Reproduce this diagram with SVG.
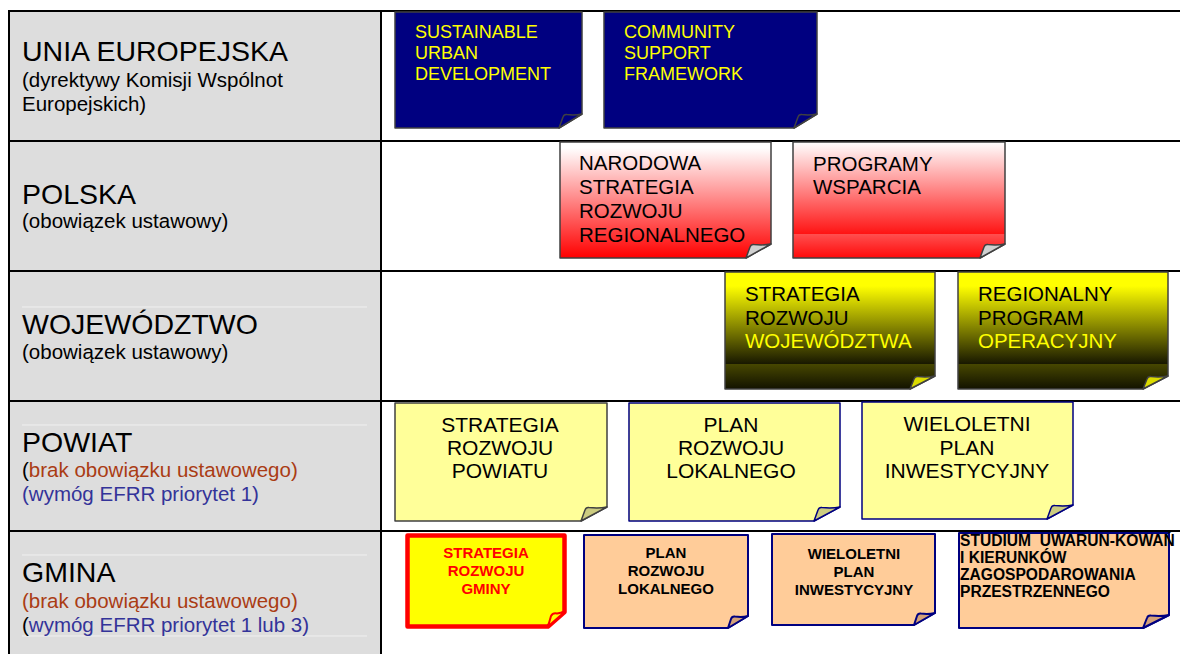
<svg xmlns="http://www.w3.org/2000/svg" width="1180" height="654" viewBox="0 0 1180 654">
<style>
text{font-family:"Liberation Sans",Arial,sans-serif}
.big{font-size:28.5px;fill:#000}
.sub{font-size:20.5px;fill:#000}
.br{fill:#aa3c14}
.bl{fill:#333399}
.grid{stroke:#000;stroke-width:2;fill:none}
.faint{stroke:#f0f0f0;stroke-width:1}
.note{stroke:#404040;stroke-width:1.5;stroke-linejoin:round}
.eu{font-size:18px;fill:#ffff00}
.t20{font-size:20.5px;fill:#000}
.t21{font-size:21px;fill:#000;text-anchor:middle}
.tb{font-size:15px;font-weight:bold;fill:#000;text-anchor:middle}
.tl{font-size:15.6px;font-weight:bold;fill:#000}
.ny{stroke:#000080;stroke-width:1.5;stroke-linejoin:round}
.ny2{stroke:#000080;stroke-width:2;stroke-linejoin:round}
</style>
<defs>
<linearGradient id="gRed1" x1="0" y1="0" x2="0" y2="1">
<stop offset="0" stop-color="#ffffff"/><stop offset="0.05" stop-color="#ffffff"/><stop offset="1" stop-color="#ff0000"/>
</linearGradient>
<linearGradient id="gRed2" x1="0" y1="0" x2="0" y2="1">
<stop offset="0" stop-color="#ffffff"/><stop offset="0.79" stop-color="#ff1414"/><stop offset="0.79" stop-color="#ff5050"/><stop offset="1" stop-color="#ff0a0a"/>
</linearGradient>
<linearGradient id="gYB" x1="0" y1="0" x2="0" y2="1">
<stop offset="0" stop-color="#ffff00"/><stop offset="0.12" stop-color="#ffff00"/><stop offset="0.79" stop-color="#161600"/><stop offset="0.79" stop-color="#464600"/><stop offset="1" stop-color="#121200"/>
</linearGradient>
</defs>
<rect width="1180" height="654" fill="#ffffff"/>
<g id="table">
<rect x="9" y="11" width="372" height="643" fill="#dddddd"/>
<line class="faint" x1="22" y1="307" x2="367" y2="307"/>
<line class="faint" x1="22" y1="425" x2="367" y2="425"/>
<line class="faint" x1="22" y1="555" x2="367" y2="555"/>
<line class="faint" x1="22" y1="636" x2="367" y2="636"/>
<line class="grid" x1="8" y1="11" x2="1180" y2="11"/>
<line class="grid" x1="8" y1="141" x2="1180" y2="141"/>
<line class="grid" x1="8" y1="271" x2="1180" y2="271"/>
<line class="grid" x1="8" y1="401" x2="1180" y2="401"/>
<line class="grid" x1="8" y1="531" x2="1180" y2="531"/>
<line class="grid" x1="9" y1="10" x2="9" y2="654"/>
<line class="grid" x1="381" y1="10" x2="381" y2="654"/>
</g>
<g id="row-labels">
<text class="big" x="22" y="61">UNIA EUROPEJSKA</text>
<text class="sub" x="22" y="87">(dyrektywy Komisji Wspólnot</text>
<text class="sub" x="22" y="111">Europejskich)</text>
<text class="big" x="22" y="204">POLSKA</text>
<text class="sub" x="22" y="228">(obowiązek ustawowy)</text>
<text class="big" x="22" y="334">WOJEWÓDZTWO</text>
<text class="sub" x="22" y="359">(obowiązek ustawowy)</text>
<text class="big" x="22" y="452">POWIAT</text>
<text class="sub" x="22" y="477">(<tspan class="br">brak obowiązku ustawowego)</tspan></text>
<text class="sub bl" x="22" y="501">(wymóg EFRR priorytet 1)</text>
<text class="big" x="22" y="582">GMINA</text>
<text class="sub br" x="22" y="608">(brak obowiązku ustawowego)</text>
<text class="sub" x="22" y="632">(<tspan class="bl">wymóg EFRR priorytet 1 lub 3)</tspan></text>
</g>
<g id="connectors"></g>
<g id="eu-sud">
<path class="note" fill="#000080" d="M395,12 H582 V114 L559,128 H395 Z"/>
<path class="note" fill="#000080" d="M582,114 L559,128 L563,117 Q564,114 567,114.5 Q574,115.5 582,114 Z"/>
<text class="eu" x="415" y="38">SUSTAINABLE</text>
<text class="eu" x="415" y="59">URBAN</text>
<text class="eu" x="415" y="80">DEVELOPMENT</text>
</g>
<g id="eu-csf">
<path class="note" fill="#000080" d="M604,12 H817 V114 L794,128 H604 Z"/>
<path class="note" fill="#000080" d="M817,114 L794,128 L798,117 Q799,114 802,114.5 Q809,115.5 817,114 Z"/>
<text class="eu" x="624" y="38">COMMUNITY</text>
<text class="eu" x="624" y="59">SUPPORT</text>
<text class="eu" x="624" y="80">FRAMEWORK</text>
</g>
<g id="pl-nsrr">
<path class="note" fill="url(#gRed1)" d="M560,142 H771 V244 L746,258 H560 Z"/>
<path class="note" fill="#d0d0d0" d="M771,244 L746,258 L750,247 Q751,244 754,244.5 Q763,245.5 771,244 Z"/>
<text class="t20" x="579" y="170">NARODOWA</text>
<text class="t20" x="579" y="194">STRATEGIA</text>
<text class="t20" x="579" y="218">ROZWOJU</text>
<text class="t20" x="579" y="242">REGIONALNEGO</text>
</g>
<g id="pl-programy">
<path class="note" fill="url(#gRed2)" d="M793,142 H1005 V244 L980,258 H793 Z"/>
<path class="note" fill="#d0d0d0" d="M1005,244 L980,258 L984,247 Q985,244 988,244.5 Q997,245.5 1005,244 Z"/>
<text class="t20" x="813" y="171">PROGRAMY</text>
<text class="t20" x="813" y="194">WSPARCIA</text>
</g>
<g id="woj-strategia">
<path class="note" fill="url(#gYB)" d="M725,272 H935 V376 L910,389 H725 Z"/>
<path class="note" fill="#dcdc00" d="M935,376 L910,389 L914,379 Q915,376 918,376.5 Q927,377.5 935,376 Z"/>
<text class="t20" x="745" y="301">STRATEGIA</text>
<text class="t20" x="745" y="325">ROZWOJU</text>
<text class="t20" x="745" y="348" style="fill:#ffff00">WOJEWÓDZTWA</text>
</g>
<g id="woj-rpo">
<path class="note" fill="url(#gYB)" d="M958,272 H1168 V376 L1143,389 H958 Z"/>
<path class="note" fill="#dcdc00" d="M1168,376 L1143,389 L1147,379 Q1148,376 1151,376.5 Q1160,377.5 1168,376 Z"/>
<text class="t20" x="978" y="301">REGIONALNY</text>
<text class="t20" x="978" y="325">PROGRAM</text>
<text class="t20" x="978" y="348" style="fill:#ffff00">OPERACYJNY</text>
</g>
<g id="pow-strategia">
<path class="note" fill="#ffff99" stroke="#202020" d="M395,403 H607 V507 L581,521 H395 Z"/>
<path class="note" fill="#cccc80" d="M607,507 L581,521 L585,510 Q586,507 589,507.5 Q599,508.5 607,507 Z"/>
<text class="t21" x="500" y="432">STRATEGIA</text>
<text class="t21" x="500" y="455">ROZWOJU</text>
<text class="t21" x="500" y="478">POWIATU</text>
</g>
<g id="pow-plan">
<path class="ny" fill="#ffff99" d="M629,403 H840 V507 L814,521 H629 Z"/>
<path class="ny" fill="#cccc80" d="M840,507 L814,521 L818,510 Q819,507 822,507.5 Q832,508.5 840,507 Z"/>
<text class="t21" x="731" y="432">PLAN</text>
<text class="t21" x="731" y="455">ROZWOJU</text>
<text class="t21" x="731" y="478">LOKALNEGO</text>
</g>
<g id="pow-wpi">
<path class="ny" fill="#ffff99" d="M862,402 H1073 V505 L1047,519 H862 Z"/>
<path class="ny" fill="#cccc80" d="M1073,505 L1047,519 L1051,508 Q1052,505 1055,505.5 Q1065,506.5 1073,505 Z"/>
<text class="t21" x="967" y="431">WIELOLETNI</text>
<text class="t21" x="967" y="455">PLAN</text>
<text class="t21" x="967" y="478">INWESTYCYJNY</text>
</g>
<g id="gm-strategia">
<path fill="#ffff00" stroke="#ff0000" stroke-width="4.5" stroke-linejoin="round" d="M407.5,535.5 H564.5 V612 L548,626.5 H407.5 Z"/>
<path fill="#ffff00" stroke="#ff0000" stroke-width="2" stroke-linejoin="round" d="M564.5,612 L548,626.5 L551,616 Q553,612.5 557,613.5 Z"/>
<text class="tb" x="486" y="558" style="fill:#ff0000">STRATEGIA</text>
<text class="tb" x="486" y="576" style="fill:#ff0000">ROZWOJU</text>
<text class="tb" x="486" y="594" style="fill:#ff0000">GMINY</text>
</g>
<g id="gm-plan">
<path class="ny2" fill="#ffcc99" d="M584,535 H748 V616 L728,628 H584 Z"/>
<path class="ny2" fill="#d4a27a" d="M748,616 L728,628 L731,619 Q732,616 735,616.5 Q742,617.5 748,616 Z"/>
<text class="tb" x="666" y="558">PLAN</text>
<text class="tb" x="666" y="576">ROZWOJU</text>
<text class="tb" x="666" y="594">LOKALNEGO</text>
</g>
<g id="gm-wpi">
<path class="ny2" fill="#ffcc99" d="M772,534 H935 V613 L914,625 H772 Z"/>
<path class="ny2" fill="#d4a27a" d="M935,613 L914,625 L917,616 Q918,613 921,613.5 Q928,614.5 935,613 Z"/>
<text class="tb" x="854" y="559">WIELOLETNI</text>
<text class="tb" x="854" y="577">PLAN</text>
<text class="tb" x="854" y="595">INWESTYCYJNY</text>
</g>
<g id="gm-studium">
<path class="ny2" fill="#ffcc99" d="M959,533 H1169 V615 L1143,628 H959 Z"/>
<path class="ny2" fill="#d4a27a" d="M1169,615 L1143,628 L1147,618 Q1148,615 1151,615.5 Q1161,616.5 1169,615 Z"/>
<text class="tl" x="960" y="546" style="white-space:pre">STUDIUM  UWARUN-KOWAŃ</text>
<text class="tl" x="960" y="563">I KIERUNKÓW</text>
<text class="tl" x="960" y="580">ZAGOSPODAROWANIA</text>
<text class="tl" x="960" y="597">PRZESTRZENNEGO</text>
</g>
</svg>
